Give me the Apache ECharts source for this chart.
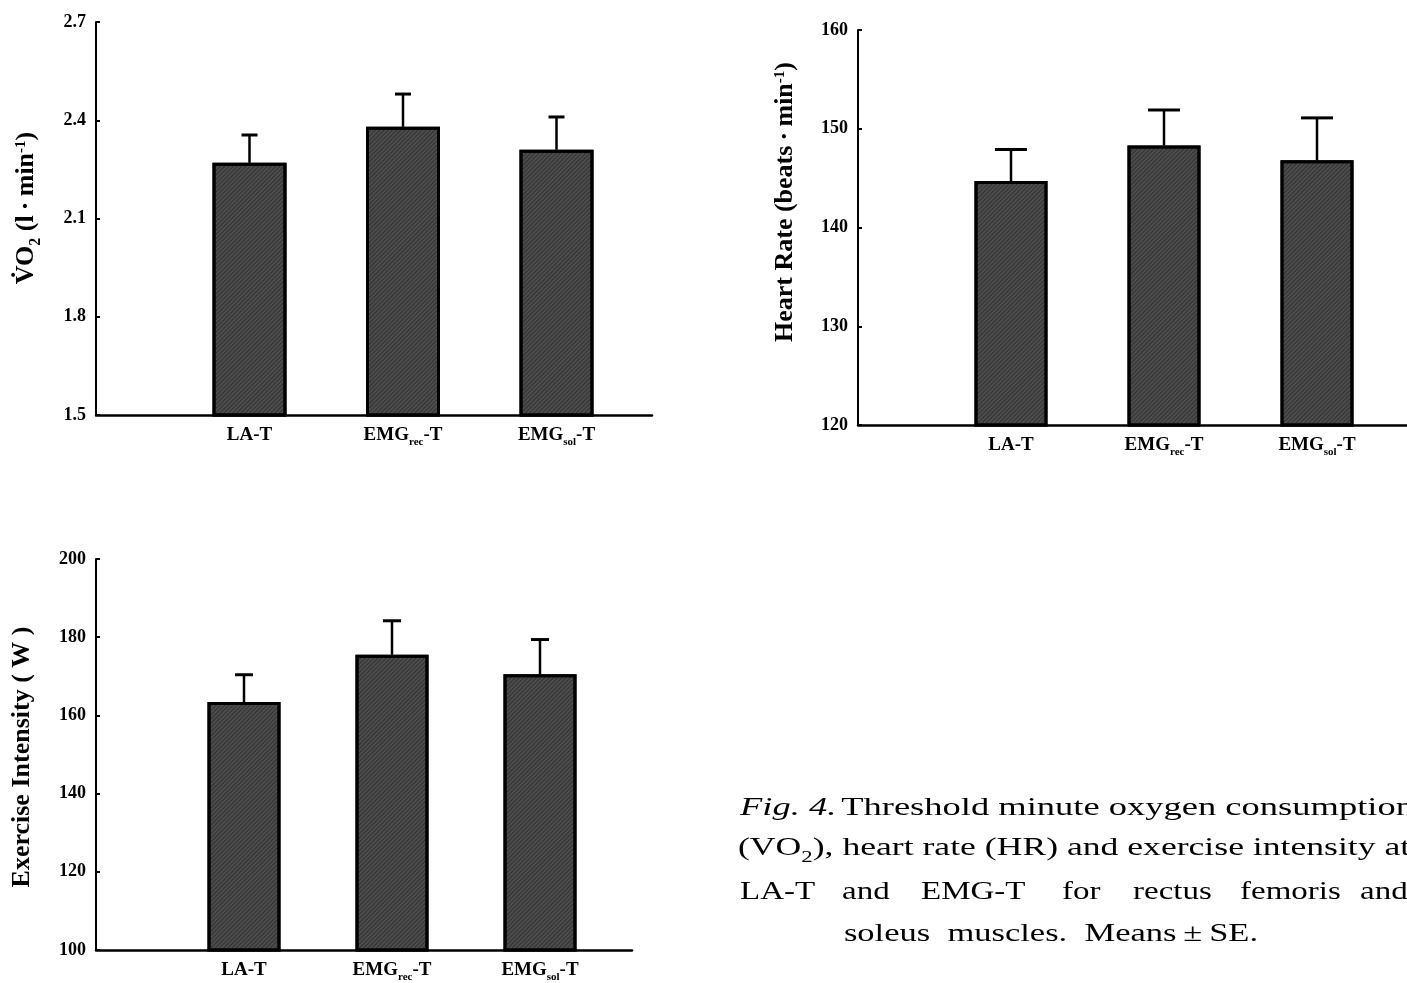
<!DOCTYPE html>
<html>
<head>
<meta charset="utf-8">
<script src="https://cdn.jsdelivr.net/npm/echarts@6/dist/echarts.min.js"></script>
<style>
  html, body { margin: 0; padding: 0; background: #fff; }
  #chart { width: 1407px; height: 983px; }
</style>
</head>
<body>
<div id="chart"></div>
<script>
// ---------- data ----------
const categories = ['LA-T', 'EMG_rec-T', 'EMG_sol-T'];
const catPositions = [1, 2, 3];

const vo2Mean = [2.27, 2.38, 2.31];
const vo2SE = [0.085, 0.10, 0.10];
const vo2Ticks = { min: 1.5, max: 2.7, interval: 0.3 };

const hrMean = [144.7, 148.3, 146.8];
const hrSE = [3.2, 3.6, 4.3];
const hrTicks = { min: 120, max: 160, interval: 10 };

const eiMean = [163.4, 175.5, 170.5];
const eiSE = [7.0, 8.7, 8.9];
const eiTicks = { min: 100, max: 200, interval: 20 };

const captionLine1 = 'Threshold minute oxygen consumption';
const captionLine2a = '(VO';
const captionLine2b = '), heart rate (HR) and exercise intensity at';
const captionLine3 = ['LA-T', 'and', 'EMG-T', 'for', 'rectus', 'femoris', 'and'];
const captionLine4 = 'soleus  muscles.  Means\u2009\u00B1\u2009SE.';

// ---------- styles ----------
const SERIF = "'Liberation Serif', 'Times New Roman', serif";
const BAR_FILL = '#4d4d4d';

function catLabel(v) {
  const i = catPositions.indexOf(Math.round(v));
  if (i < 0 || Math.abs(v - Math.round(v)) > 1e-6) return '';
  const c = categories[i];
  const m = c.match(/^(.*)_(.*?)(-T)$/);
  if (m) return '{b|' + m[1] + '}{s|' + m[2] + '}{b|' + m[3] + '}';
  return '{b|' + c + '}';
}

const labelRich = {
  b: { fontFamily: SERIF, fontWeight: 'bold', fontSize: 19, color: '#000', verticalAlign: 'top', lineHeight: 22 },
  s: { fontFamily: SERIF, fontWeight: 'bold', fontSize: 11, color: '#000', verticalAlign: 'top', lineHeight: 11, padding: [11, 0, 0, 0] }
};

function xAxis(gridIndex, max) {
  return {
    type: 'value', gridIndex, min: 0, max,
    axisLine: { show: true, onZero: false, lineStyle: { color: '#000', width: 2.5 } },
    axisTick: { show: false },
    splitLine: { show: false },
    axisLabel: {
      customValues: catPositions,
      formatter: catLabel,
      rich: labelRich,
      margin: 11,
      color: '#000'
    }
  };
}

function yAxis(gridIndex, t, digits) {
  return {
    type: 'value', gridIndex, min: t.min, max: t.max, interval: t.interval,
    axisLine: { show: true, lineStyle: { color: '#000', width: 2 } },
    axisTick: { show: true, inside: true, length: 4, lineStyle: { color: '#000', width: 2 } },
    splitLine: { show: false },
    axisLabel: {
      fontFamily: SERIF, fontWeight: 'bold', fontSize: 18, color: '#000', margin: 10,
      formatter: v => v.toFixed(digits)
    }
  };
}

function barSeries(idx, means, bw) {
  return {
    type: 'bar', xAxisIndex: idx, yAxisIndex: idx,
    data: means.map((m, i) => [catPositions[i], m]),
    barWidth: bw,
    itemStyle: {
      color: BAR_FILL, borderColor: '#000', borderWidth: 3,
      decal: {
        symbol: 'rect', symbolSize: 1,
        dashArrayX: [1, 0], dashArrayY: [1, 2],
        rotation: -Math.PI / 4,
        color: 'rgba(25,25,25,0.55)'
      }
    },
    silent: true, animation: false
  };
}

function errSeries(idx, means, ses, capHalf) {
  return {
    type: 'custom', xAxisIndex: idx, yAxisIndex: idx, z: 5,
    data: means.map((m, i) => [catPositions[i], m, ses[i]]),
    renderItem: function (params, api) {
      const x = api.value(0), m = api.value(1), se = api.value(2);
      const p0 = api.coord([x, m]);
      const p1 = api.coord([x, m + se]);
      return {
        type: 'group',
        children: [
          { type: 'line', shape: { x1: p0[0], y1: p0[1], x2: p1[0], y2: p1[1] }, style: { stroke: '#000', lineWidth: 2.5 } },
          { type: 'line', shape: { x1: p1[0] - capHalf, y1: p1[1], x2: p1[0] + capHalf, y2: p1[1] }, style: { stroke: '#000', lineWidth: 3 } }
        ]
      };
    },
    silent: true, animation: false
  };
}

const titleRich = {
  t: { fontFamily: SERIF, fontWeight: 'bold', fontSize: 26, color: '#000', verticalAlign: 'top', lineHeight: 29 },
  sub: { fontFamily: SERIF, fontWeight: 'bold', fontSize: 16, color: '#000', verticalAlign: 'top', lineHeight: 15, padding: [14, 0, 0, 0] },
  sup: { fontFamily: SERIF, fontWeight: 'bold', fontSize: 15, color: '#000', verticalAlign: 'top', lineHeight: 15, padding: [0, 0, 0, 0] }
};

function yTitle(x, y, text) {
  return {
    type: 'text', x, y, rotation: Math.PI / 2,
    style: { text, rich: titleRich, align: 'center', verticalAlign: 'middle' }
  };
}

const capStyle = { fontFamily: SERIF, fontSize: 25, fill: '#000' };
const line3X = [740, 842, 921, 1062, 1133, 1240, 1360];

const option = {
  backgroundColor: '#fff',
  animation: false,
  grid: [
    { left: 96, top: 22, width: 556, height: 393 },
    { left: 858, top: 30, width: 549, height: 395 },
    { left: 96, top: 559, width: 536, height: 392 }
  ],
  xAxis: [xAxis(0, 556 / 153.5), xAxis(1, 549 / 153), xAxis(2, 536 / 148)],
  yAxis: [yAxis(0, vo2Ticks, 1), yAxis(1, hrTicks, 0), yAxis(2, eiTicks, 0)],
  series: [
    barSeries(0, vo2Mean, 74), errSeries(0, vo2Mean, vo2SE, 8),
    barSeries(1, hrMean, 73), errSeries(1, hrMean, hrSE, 16),
    barSeries(2, eiMean, 73), errSeries(2, eiMean, eiSE, 9)
  ],
  graphic: [
    yTitle(28, 208, '{t|V\u0307O}{sub|2}{t| (l\u2009·\u2009min}{sup|-1}{t|)}'),
    yTitle(787, 202, '{t|Heart Rate (beats\u2009·\u2009min}{sup|-1}{t|)}'),
    yTitle(24, 757, '{t|Exercise Intensity ( W )}'),
    // caption
    {
      type: 'text', x: 740, y: 808, scaleX: 1.46,
      style: {
        text: '{i|Fig. 4.} {r|' + captionLine1 + '}',
        rich: {
          i: { fontFamily: SERIF, fontSize: 25, fontStyle: 'italic', fill: '#000' },
          r: { fontFamily: SERIF, fontSize: 25, fill: '#000' }
        },
        verticalAlign: 'middle', align: 'left'
      }
    },
    {
      type: 'text', x: 738, y: 850, scaleX: 1.425,
      style: {
        text: '{r|' + captionLine2a + '}{s|2}{r|' + captionLine2b + '}',
        rich: {
          r: { fontFamily: SERIF, fontSize: 25, fill: '#000', verticalAlign: 'top', lineHeight: 28 },
          s: { fontFamily: SERIF, fontSize: 16, fill: '#000', verticalAlign: 'top', lineHeight: 16, padding: [14, 0, 0, 0] }
        },
        verticalAlign: 'middle', align: 'left'
      }
    }
  ].concat(
    captionLine3.map((w, i) => ({
      type: 'text', x: line3X[i], y: 892, scaleX: 1.32,
      style: Object.assign({ text: w, verticalAlign: 'middle', align: 'left' }, capStyle)
    }))
  ).concat([
    {
      type: 'text', x: 1051, y: 934, scaleX: 1.38,
      style: Object.assign({ text: captionLine4, verticalAlign: 'middle', align: 'center' }, capStyle)
    }
  ])
};

const chart = echarts.init(document.getElementById('chart'), null, { renderer: 'canvas' });
chart.setOption(option);
</script>
</body>
</html>
